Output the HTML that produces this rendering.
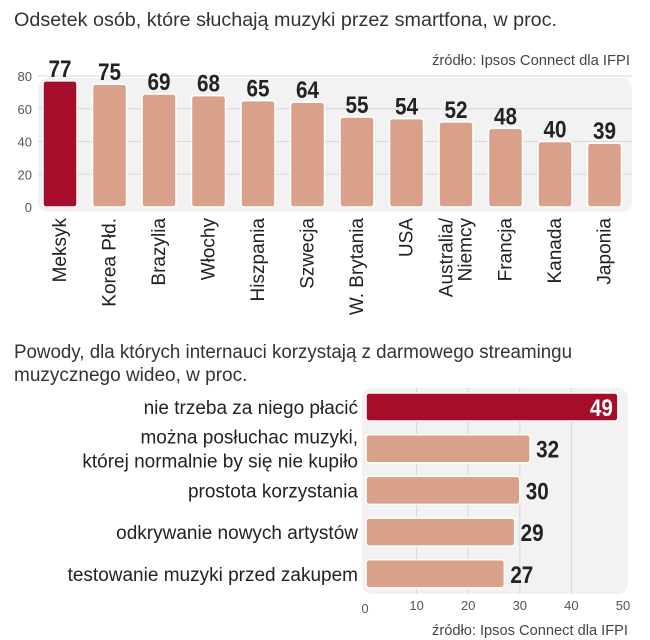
<!DOCTYPE html>
<html><head><meta charset="utf-8"><style>
html,body{margin:0;padding:0;background:#fff;}
svg{display:block;font-family:"Liberation Sans Narrow","Liberation Sans",sans-serif;}
.t{fill:#333;font-size:19px;}
.s{fill:#444;font-size:15px;}
.ax{fill:#555;font-size:13px;}
.v{fill:#222;font-size:24px;font-weight:bold;}
.lab{fill:#222;font-size:19px;}
.hl{fill:#222;font-size:19px;font-family:"Liberation Sans",sans-serif;}
</style></head><body>
<svg id="c" width="650" height="640" viewBox="0 0 650 640">
<text class="t" x="14" y="26" textLength="543" lengthAdjust="spacingAndGlyphs">Odsetek osób, które słuchają muzyki przez smartfona, w proc.</text>
<text class="s" x="630" y="65" text-anchor="end" textLength="198" lengthAdjust="spacingAndGlyphs">źródło: Ipsos Connect dla IFPI</text>
<rect x="38" y="78" width="594" height="134" rx="10" fill="#f2f2f2"/>
<g id="topg"></g>
<text class="t" x="14" y="358" textLength="558" lengthAdjust="spacingAndGlyphs">Powody, dla których internauci korzystają z darmowego streamingu</text>
<text class="t" x="14" y="381">muzycznego wideo, w proc.</text>
<rect x="362" y="388" width="266" height="206" rx="10" fill="#f2f2f2"/>
<g id="botg"></g>
<text class="s" x="628" y="635" text-anchor="end" textLength="196" lengthAdjust="spacingAndGlyphs">źródło: Ipsos Connect dla IFPI</text>
</svg>
<script>
const countries=["Meksyk","Korea Płd.","Brazylia","Włochy","Hiszpania","Szwecja","W. Brytania","USA","Australia/|Niemcy","Francja","Kanada","Japonia"];
const smartphoneShare=[77,75,69,68,65,64,55,54,52,48,40,39];
const topTicks=[0,20,40,60,80];
const reasons=[["nie trzeba za niego płacić"],["można posłuchac muzyki,","której normalnie by się nie kupiło"],["prostota korzystania"],["odkrywanie nowych artystów"],["testowanie muzyki przed zakupem"]];
const reasonShare=[49,32,30,29,27];
const botTicks=[0,10,20,30,40,50];

const NS="http://www.w3.org/2000/svg";
function mk(p,tag,at,txt){const e=document.createElementNS(NS,tag);for(const k in at)e.setAttribute(k,at[k]);if(txt!==undefined)e.textContent=txt;p.appendChild(e);return e;}
const RED="#a50d2a",SAL="#d9a08a";
const topG=document.getElementById("topg");
const yS=v=>207-v*131/80;
const bx=i=>43+i*49.5;
topTicks.forEach(t=>{
  if(t>0){const l=mk(topG,"line",{x1:38,x2:632,y1:yS(t),y2:yS(t),stroke:"#d8d8d8","stroke-width":1});
  
  }
  const tx=mk(topG,"text",{x:32,y:yS(t)+5,"text-anchor":"end",class:"ax"},t);
  
  
});
smartphoneShare.forEach((v,i)=>{
  const r=mk(topG,"rect",{x:bx(i),y:yS(v),width:34,height:207-yS(v),rx:3,fill:i===0?RED:SAL,stroke:"#fff","stroke-width":1.5});
  
  
  const t=mk(topG,"text",{x:bx(i)+17,y:yS(v)-4,"text-anchor":"middle",class:"v",textLength:String(v).length*11.5,lengthAdjust:"spacingAndGlyphs"},v);
  
  
  const parts=countries[i].split("|");
  parts.forEach((p,j)=>{
    const cx=bx(i)+17+6+(j-(parts.length-1)/2)*19;
    const lt=mk(topG,"text",{x:0,y:0,"text-anchor":"end",class:"lab",transform:`translate(${cx},218) rotate(-90)`},p);
    
    
  });
});
const botG=document.getElementById("botg");
const xS=v=>365+v*258/50;
const ry=i=>393+i*41.7;
botTicks.forEach(t=>{
  if(t>0&&t<50){const l=mk(botG,"line",{x1:xS(t),x2:xS(t),y1:388,y2:594,stroke:"#d8d8d8","stroke-width":1});
  
  }
  const tx=mk(botG,"text",{x:xS(t),y:t===0?613:610,"text-anchor":"middle",class:"ax"},t);
  
  
});
reasonShare.forEach((v,i)=>{
  const r=mk(botG,"rect",{x:366,y:ry(i),width:xS(v)-366,height:28,rx:3,fill:i===0?RED:SAL,stroke:"#fff","stroke-width":1.5});
  
  
  const inside=i===0;
  const t=mk(botG,"text",{x:inside?xS(v)-5:xS(v)+6,y:ry(i)+23,"text-anchor":inside?"end":"start",class:"v",textLength:String(v).length*11.5,lengthAdjust:"spacingAndGlyphs"},v);
  if(inside)t.style.fill="#fff";
  
  
  const lines=reasons[i];
  lines.forEach((p,j)=>{
    const yy=ry(i)+21+(j-(lines.length-1)/2)*24;
    const lt=mk(botG,"text",{x:358,y:yy,"text-anchor":"end",class:"hl"},p);
    
    
  });
});
</script>
</body></html>
